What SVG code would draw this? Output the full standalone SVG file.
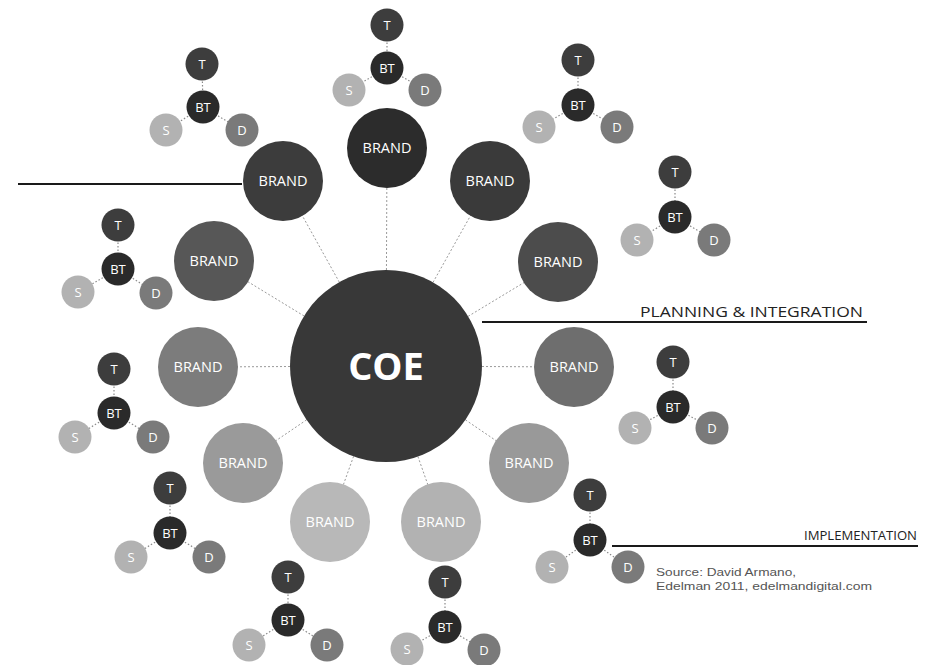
<svg xmlns="http://www.w3.org/2000/svg" width="930" height="665" viewBox="0 0 930 665">
<style>
.bg{fill:#ffffff}
.spoke{stroke:#9a9a9a;stroke-width:1;stroke-dasharray:2 2;fill:none}
.link{stroke:#8a8a8a;stroke-width:1.2;stroke-dasharray:1.5 2;fill:none}
.rule{stroke:#1a1a1a;stroke-width:2;fill:none}
.lbl{font-family:"Open Sans","Noto Sans",sans-serif;fill:#ffffff;text-anchor:middle}
.brand{font-size:14.5px}
.coe{font-size:38px;font-weight:bold}
.small{font-size:13px}
.head{font-family:"Open Sans","Noto Sans",sans-serif;font-size:15px;fill:#222222}
.impl{font-size:13.5px}
.src{font-family:"Liberation Sans",Arial,sans-serif;font-size:11.5px;fill:#555555}
.t{fill:#3d3d3d}.bt{fill:#2a2a2a}.s{fill:#b2b2b2}.d{fill:#7a7a7a}
</style>
<rect class="bg" x="0" y="0" width="930" height="665"/>
<g id="connectors">
<line class="spoke" x1="386" y1="366" x2="387" y2="148"/>
<line class="spoke" x1="386" y1="366" x2="283" y2="181"/>
<line class="spoke" x1="386" y1="366" x2="490" y2="181"/>
<line class="spoke" x1="386" y1="366" x2="214" y2="261"/>
<line class="spoke" x1="386" y1="366" x2="558" y2="262"/>
<line class="spoke" x1="386" y1="366" x2="198" y2="367"/>
<line class="spoke" x1="386" y1="366" x2="574" y2="367"/>
<line class="spoke" x1="386" y1="366" x2="243" y2="463"/>
<line class="spoke" x1="386" y1="366" x2="529" y2="463"/>
<line class="spoke" x1="386" y1="366" x2="330" y2="522"/>
<line class="spoke" x1="386" y1="366" x2="441" y2="522"/>
<path class="link" d="M387 25V68M387 68L349 90M387 68L425 90"/>
<path class="link" d="M202 64L203 107M203 107L166 130M203 107L242 130"/>
<path class="link" d="M578 60V105M578 105L539 127M578 105L617 127"/>
<path class="link" d="M675 172V217M675 217L637 240M675 217L714 240"/>
<path class="link" d="M118 225V269M118 269L78 292M118 269L156 293"/>
<path class="link" d="M673 362V407M673 407L635 428M673 407L712 428"/>
<path class="link" d="M114 369V413M114 413L75 437M114 413L153 437"/>
<path class="link" d="M170 488V533M170 533L131 557M170 533L209 557"/>
<path class="link" d="M590 495V540M590 540L552 567M590 540L628 567"/>
<path class="link" d="M288 577V620M288 620L249 645M288 620L327 645"/>
<path class="link" d="M445 582V627M445 627L407 649M445 627L484 650"/>
<path class="rule" d="M18 184H242"/>
<path class="rule" d="M482 322H867"/>
<path class="rule" d="M612 546H918"/>
</g>
<g id="coe"><circle cx="386" cy="366" r="96" fill="#383838"/><text class="lbl coe" x="386" y="380">COE</text></g>
<g id="brand-1"><circle cx="387" cy="148" r="40" fill="#2c2c2c"/><text class="lbl brand" x="387" y="153">BRAND</text></g>
<g id="brand-2"><circle cx="283" cy="181" r="40" fill="#3c3c3c"/><text class="lbl brand" x="283" y="186">BRAND</text></g>
<g id="brand-3"><circle cx="490" cy="181" r="40" fill="#3a3a3a"/><text class="lbl brand" x="490" y="186">BRAND</text></g>
<g id="brand-4"><circle cx="214" cy="261" r="40" fill="#575757"/><text class="lbl brand" x="214" y="266">BRAND</text></g>
<g id="brand-5"><circle cx="558" cy="262" r="40" fill="#4c4c4c"/><text class="lbl brand" x="558" y="267">BRAND</text></g>
<g id="brand-6"><circle cx="198" cy="367" r="40" fill="#7c7c7c"/><text class="lbl brand" x="198" y="372">BRAND</text></g>
<g id="brand-7"><circle cx="574" cy="367" r="40" fill="#6e6e6e"/><text class="lbl brand" x="574" y="372">BRAND</text></g>
<g id="brand-8"><circle cx="243" cy="463" r="40" fill="#9a9a9a"/><text class="lbl brand" x="243" y="468">BRAND</text></g>
<g id="brand-9"><circle cx="529" cy="463" r="40" fill="#999999"/><text class="lbl brand" x="529" y="468">BRAND</text></g>
<g id="brand-10"><circle cx="330" cy="522" r="40" fill="#b8b8b8"/><text class="lbl brand" x="330" y="527">BRAND</text></g>
<g id="brand-11"><circle cx="441" cy="522" r="40" fill="#b2b2b2"/><text class="lbl brand" x="441" y="527">BRAND</text></g>
<g id="cluster-1"><circle class="t" cx="387" cy="25" r="16.5"/><circle class="bt" cx="387" cy="68" r="16.5"/><circle class="s" cx="349" cy="90" r="16.5"/><circle class="d" cx="425" cy="90" r="16.5"/><text class="lbl small" x="387" y="30">T</text><text class="lbl small" x="387" y="73">BT</text><text class="lbl small" x="349" y="95">S</text><text class="lbl small" x="425" y="95">D</text></g>
<g id="cluster-2"><circle class="t" cx="202" cy="64" r="16.5"/><circle class="bt" cx="203" cy="107" r="16.5"/><circle class="s" cx="166" cy="130" r="16.5"/><circle class="d" cx="242" cy="130" r="16.5"/><text class="lbl small" x="202" y="69">T</text><text class="lbl small" x="203" y="112">BT</text><text class="lbl small" x="166" y="135">S</text><text class="lbl small" x="242" y="135">D</text></g>
<g id="cluster-3"><circle class="t" cx="578" cy="60" r="16.5"/><circle class="bt" cx="578" cy="105" r="16.5"/><circle class="s" cx="539" cy="127" r="16.5"/><circle class="d" cx="617" cy="127" r="16.5"/><text class="lbl small" x="578" y="65">T</text><text class="lbl small" x="578" y="110">BT</text><text class="lbl small" x="539" y="132">S</text><text class="lbl small" x="617" y="132">D</text></g>
<g id="cluster-4"><circle class="t" cx="675" cy="172" r="16.5"/><circle class="bt" cx="675" cy="217" r="16.5"/><circle class="s" cx="637" cy="240" r="16.5"/><circle class="d" cx="714" cy="240" r="16.5"/><text class="lbl small" x="675" y="177">T</text><text class="lbl small" x="675" y="222">BT</text><text class="lbl small" x="637" y="245">S</text><text class="lbl small" x="714" y="245">D</text></g>
<g id="cluster-5"><circle class="t" cx="118" cy="225" r="16.5"/><circle class="bt" cx="118" cy="269" r="16.5"/><circle class="s" cx="78" cy="292" r="16.5"/><circle class="d" cx="156" cy="293" r="16.5"/><text class="lbl small" x="118" y="230">T</text><text class="lbl small" x="118" y="274">BT</text><text class="lbl small" x="78" y="297">S</text><text class="lbl small" x="156" y="298">D</text></g>
<g id="cluster-6"><circle class="t" cx="673" cy="362" r="16.5"/><circle class="bt" cx="673" cy="407" r="16.5"/><circle class="s" cx="635" cy="428" r="16.5"/><circle class="d" cx="712" cy="428" r="16.5"/><text class="lbl small" x="673" y="367">T</text><text class="lbl small" x="673" y="412">BT</text><text class="lbl small" x="635" y="433">S</text><text class="lbl small" x="712" y="433">D</text></g>
<g id="cluster-7"><circle class="t" cx="114" cy="369" r="16.5"/><circle class="bt" cx="114" cy="413" r="16.5"/><circle class="s" cx="75" cy="437" r="16.5"/><circle class="d" cx="153" cy="437" r="16.5"/><text class="lbl small" x="114" y="374">T</text><text class="lbl small" x="114" y="418">BT</text><text class="lbl small" x="75" y="442">S</text><text class="lbl small" x="153" y="442">D</text></g>
<g id="cluster-8"><circle class="t" cx="170" cy="488" r="16.5"/><circle class="bt" cx="170" cy="533" r="16.5"/><circle class="s" cx="131" cy="557" r="16.5"/><circle class="d" cx="209" cy="557" r="16.5"/><text class="lbl small" x="170" y="493">T</text><text class="lbl small" x="170" y="538">BT</text><text class="lbl small" x="131" y="562">S</text><text class="lbl small" x="209" y="562">D</text></g>
<g id="cluster-9"><circle class="t" cx="590" cy="495" r="16.5"/><circle class="bt" cx="590" cy="540" r="16.5"/><circle class="s" cx="552" cy="567" r="16.5"/><circle class="d" cx="628" cy="567" r="16.5"/><text class="lbl small" x="590" y="500">T</text><text class="lbl small" x="590" y="545">BT</text><text class="lbl small" x="552" y="572">S</text><text class="lbl small" x="628" y="572">D</text></g>
<g id="cluster-10"><circle class="t" cx="288" cy="577" r="16.5"/><circle class="bt" cx="288" cy="620" r="16.5"/><circle class="s" cx="249" cy="645" r="16.5"/><circle class="d" cx="327" cy="645" r="16.5"/><text class="lbl small" x="288" y="582">T</text><text class="lbl small" x="288" y="625">BT</text><text class="lbl small" x="249" y="650">S</text><text class="lbl small" x="327" y="650">D</text></g>
<g id="cluster-11"><circle class="t" cx="445" cy="582" r="16.5"/><circle class="bt" cx="445" cy="627" r="16.5"/><circle class="s" cx="407" cy="649" r="16.5"/><circle class="d" cx="484" cy="650" r="16.5"/><text class="lbl small" x="445" y="587">T</text><text class="lbl small" x="445" y="632">BT</text><text class="lbl small" x="407" y="654">S</text><text class="lbl small" x="484" y="655">D</text></g>
<g id="labels">
<text class="head" x="640" y="317" textLength="223" lengthAdjust="spacingAndGlyphs">PLANNING &amp; INTEGRATION</text>
<text class="head impl" x="804" y="540" textLength="113" lengthAdjust="spacingAndGlyphs">IMPLEMENTATION</text>
<text class="src" x="656" y="576" textLength="140" lengthAdjust="spacingAndGlyphs">Source: David Armano,</text>
<text class="src" x="656" y="590" textLength="216" lengthAdjust="spacingAndGlyphs">Edelman 2011, edelmandigital.com</text>
</g>
</svg>
